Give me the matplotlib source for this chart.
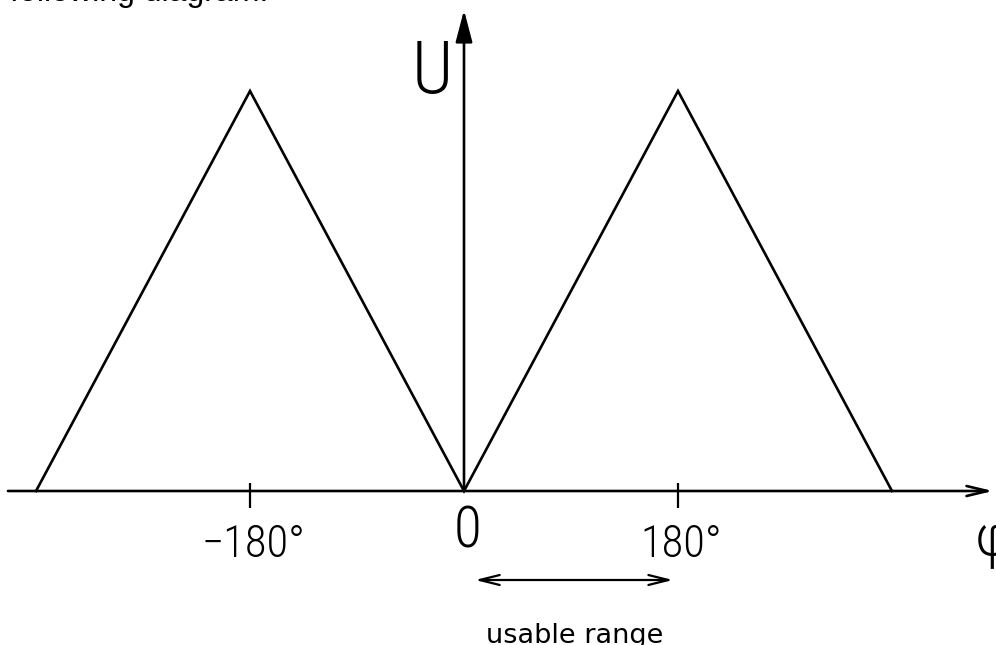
import matplotlib.pyplot as plt

# triangle wave U(phi), one period either side of the origin
phase_deg = [-360, -180, 0, 180, 360]
voltage = [0, 1, 0, 1, 0]

tick_pos = [-180, 180]
tick_labels = ["\u2212180°", "180°"]
usable_range = [0, 180]

W, H = 996, 645
narrow = ["Roboto Condensed", "DejaVu Sans"]

fig = plt.figure(figsize=(W / 100, H / 100), dpi=100)
ax = fig.add_axes([0, 0, 1, 1])
ax.set_xlim(-390.3, 447.5)
ax.set_ylim(-0.385, 1.2275)
ax.axis("off")

# the curve
ax.plot(phase_deg, voltage, color="black", lw=1.9, solid_joinstyle="miter")

# axes with arrow heads
ax.annotate("", xy=(0.997, 0), xytext=(0.008, 0),
            xycoords=("axes fraction", "data"), textcoords=("axes fraction", "data"),
            arrowprops=dict(arrowstyle="->,head_length=0.5,head_width=0.12", lw=1.9,
                            color="black", mutation_scale=30, shrinkA=0, shrinkB=0))
ax.annotate("", xy=(0, 0.9845), xytext=(0, 0),
            xycoords=("data", "axes fraction"), textcoords="data",
            arrowprops=dict(arrowstyle="-|>,head_length=0.65,head_width=0.17", lw=1.9,
                            color="black", mutation_scale=30, shrinkA=0, shrinkB=0))

# ticks and labels
ax.vlines(tick_pos, -0.0425, 0.02, color="black", lw=1.6)
for t, lab in zip(tick_pos, tick_labels):
    ax.annotate(lab, xy=(t, 0), xytext=(2.5, -47.5), textcoords="offset points",
                ha="center", va="baseline", fontsize=32, family=narrow, weight="light")
ax.annotate("0", xy=(0, 0), xytext=(2.5, -41), textcoords="offset points",
            ha="center", va="baseline", fontsize=41, family=narrow, weight="light")

fig.text(432 / W, 1 - 93 / H, "U", ha="center", va="baseline", fontsize=52,
         family=narrow, weight="light")
fig.text(975 / W, 1 - 513 / H, "φ", ha="left", va="top", fontsize=42,
         family=narrow, weight="light")

# usable range arrow
arrow_y = -0.2225
ax.annotate("", xy=(usable_range[1], arrow_y), xytext=(usable_range[0], arrow_y),
            arrowprops=dict(arrowstyle="<->,head_length=0.48,head_width=0.12", lw=1.6,
                            color="black", mutation_scale=30, shrinkA=8, shrinkB=3.6))
ax.annotate("usable range", xy=(sum(usable_range) / 2, arrow_y), xytext=(2.9, -45.4),
            textcoords="offset points", ha="center", va="baseline", fontsize=19.5,
            family="DejaVu Sans")

# leftover line of the surrounding page text
fig.text(10 / W, 1 - 1 / H, "following diagram.", va="baseline", fontsize=23,
         family=["Liberation Sans", "DejaVu Sans"])

fig.savefig("out.png", dpi=100)
